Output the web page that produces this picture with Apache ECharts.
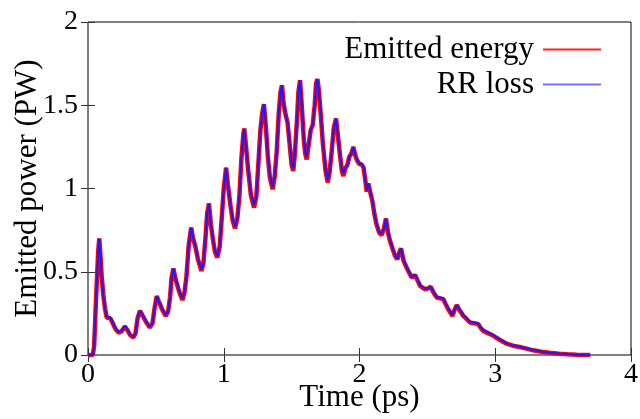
<!DOCTYPE html>
<html>
<head>
<meta charset="utf-8">
<script src="https://cdn.jsdelivr.net/npm/echarts@6/dist/echarts.min.js"></script>
<style>html,body{margin:0;padding:0;background:#fff}#c{width:640px;height:419px}</style>
</head>
<body>
<div id="c"></div>
<script>
const times = [0.00,0.035,0.045,0.06,0.075,0.083,0.09,0.10,0.113,0.125,0.138,0.15,0.165,0.18,0.20,0.223,0.245,0.272,0.29,0.31,0.334,0.35,0.365,0.383,0.40,0.43,0.455,0.475,0.49,0.506,0.52,0.545,0.572,0.59,0.605,0.615,0.629,0.645,0.67,0.695,0.71,0.725,0.742,0.76,0.775,0.79,0.81,0.835,0.85,0.865,0.878,0.891,0.905,0.92,0.935,0.953,0.97,0.985,1.00,1.017,1.03,1.05,1.065,1.083,1.10,1.115,1.13,1.145,1.151,1.165,1.18,1.20,1.223,1.24,1.255,1.27,1.283,1.296,1.31,1.325,1.34,1.36,1.375,1.39,1.405,1.418,1.429,1.44,1.455,1.47,1.485,1.50,1.512,1.525,1.54,1.55,1.562,1.575,1.59,1.60,1.611,1.625,1.64,1.655,1.67,1.68,1.69,1.70,1.715,1.73,1.75,1.766,1.78,1.795,1.81,1.827,1.84,1.855,1.87,1.881,1.895,1.91,1.925,1.94,1.955,1.97,1.985,2.00,2.015,2.03,2.045,2.053,2.065,2.08,2.095,2.11,2.125,2.145,2.163,2.18,2.195,2.21,2.225,2.245,2.262,2.279,2.295,2.306,2.325,2.347,2.365,2.384,2.409,2.43,2.446,2.465,2.483,2.505,2.524,2.545,2.569,2.595,2.618,2.635,2.654,2.684,2.70,2.716,2.74,2.765,2.79,2.814,2.85,2.875,2.895,2.912,2.95,2.986,3.035,3.084,3.13,3.18,3.23,3.28,3.34,3.40,3.47,3.53,3.60,3.65,3.70];
const rrLoss = [0,0,0.05,0.35,0.62,0.70,0.62,0.48,0.36,0.28,0.23,0.225,0.225,0.20,0.165,0.14,0.145,0.175,0.155,0.125,0.11,0.13,0.22,0.266,0.245,0.20,0.17,0.19,0.28,0.354,0.33,0.28,0.242,0.26,0.35,0.46,0.52,0.46,0.39,0.34,0.37,0.47,0.66,0.765,0.70,0.66,0.58,0.515,0.55,0.70,0.85,0.91,0.79,0.70,0.63,0.595,0.65,0.82,1.00,1.125,1.03,0.90,0.82,0.77,0.82,0.95,1.18,1.33,1.36,1.25,1.12,0.97,0.90,0.95,1.15,1.35,1.45,1.507,1.38,1.20,1.08,1.01,1.07,1.22,1.45,1.58,1.62,1.52,1.45,1.40,1.28,1.15,1.12,1.22,1.42,1.58,1.65,1.50,1.30,1.22,1.19,1.26,1.35,1.38,1.50,1.63,1.657,1.60,1.45,1.28,1.12,1.05,1.10,1.22,1.36,1.42,1.33,1.22,1.12,1.09,1.12,1.14,1.19,1.21,1.25,1.20,1.17,1.15,1.15,1.13,1.04,0.99,1.03,0.98,0.93,0.85,0.79,0.74,0.73,0.76,0.82,0.74,0.69,0.64,0.60,0.58,0.62,0.64,0.57,0.53,0.50,0.47,0.48,0.45,0.42,0.41,0.40,0.40,0.41,0.38,0.35,0.345,0.34,0.31,0.28,0.24,0.27,0.30,0.27,0.24,0.22,0.20,0.195,0.19,0.165,0.15,0.135,0.12,0.094,0.07,0.058,0.05,0.04,0.03,0.021,0.014,0.009,0.006,0.002,0,0];
const emittedEnergy = [0,0,0.05,0.35,0.62,0.70,0.62,0.48,0.36,0.28,0.225,0.22,0.22,0.195,0.16,0.135,0.14,0.17,0.15,0.12,0.105,0.13,0.22,0.266,0.24,0.195,0.165,0.19,0.28,0.354,0.325,0.275,0.235,0.26,0.35,0.46,0.52,0.455,0.385,0.33,0.37,0.47,0.66,0.765,0.695,0.655,0.575,0.505,0.55,0.70,0.85,0.91,0.785,0.695,0.62,0.585,0.65,0.82,1.00,1.125,1.025,0.895,0.81,0.76,0.82,0.95,1.18,1.33,1.36,1.245,1.11,0.96,0.885,0.95,1.15,1.35,1.45,1.507,1.375,1.19,1.065,0.995,1.07,1.22,1.45,1.58,1.62,1.515,1.445,1.395,1.27,1.14,1.105,1.22,1.42,1.58,1.65,1.495,1.29,1.21,1.175,1.26,1.35,1.38,1.50,1.63,1.657,1.595,1.44,1.27,1.105,1.035,1.10,1.22,1.36,1.42,1.325,1.21,1.105,1.075,1.12,1.14,1.19,1.21,1.25,1.195,1.165,1.145,1.145,1.125,1.035,0.98,1.03,0.975,0.925,0.845,0.785,0.735,0.72,0.76,0.82,0.735,0.685,0.635,0.595,0.575,0.62,0.64,0.565,0.525,0.495,0.465,0.48,0.445,0.415,0.405,0.395,0.40,0.41,0.375,0.345,0.34,0.335,0.305,0.275,0.235,0.27,0.30,0.265,0.235,0.215,0.195,0.19,0.185,0.16,0.145,0.13,0.115,0.09,0.068,0.056,0.048,0.038,0.028,0.02,0.013,0.008,0.005,0.002,0,0];
const xTicks = [0,1,2,3,4];
const yTicks = [0,0.5,1,1.5,2];
const seriesNames = ['Emitted energy','RR loss'];

const FONT = 'Liberation Serif';
const chart = echarts.init(document.getElementById('c'), null, {renderer:'canvas'});
const pairs = arr => times.map((t,i)=>[t, arr[i]]);
const tickStyle = {show:true, inside:true, length:7, lineStyle:{color:'#333', width:1}};
chart.setOption({
  animation:false,
  backgroundColor:'#fff',
  grid:{left:88, right:9, top:22, bottom:64, containLabel:false, outerBoundsMode:'none',
        show:true, borderColor:'#000', borderWidth:1, backgroundColor:'transparent'},
  legend:{
    orient:'vertical', right:34, top:29, align:'right', itemGap:4,
    itemWidth:58, itemHeight:2, icon:'rect',
    textStyle:{fontFamily:FONT, fontSize:31, color:'#000', padding:[0,4,0,0]},
    data:[
      {name:seriesNames[0], itemStyle:{color:'#ff2020'}},
      {name:seriesNames[1], itemStyle:{color:'#7070ff'}}
    ]
  },
  xAxis:[
    {type:'value', min:xTicks[0], max:xTicks[xTicks.length-1], interval:1, position:'bottom',
     name:'Time (ps)', nameLocation:'middle', nameGap:27, nameMoveOverlap:false,
     nameTextStyle:{fontFamily:FONT, fontSize:31, color:'#000'},
     axisLine:{show:false}, axisTick:tickStyle, splitLine:{show:false},
     axisLabel:{fontFamily:FONT, fontSize:28, color:'#000', margin:6}},
    {type:'value', min:xTicks[0], max:xTicks[xTicks.length-1], interval:1, position:'top',
     axisLine:{show:false}, axisTick:tickStyle, splitLine:{show:false}, axisLabel:{show:false}}
  ],
  yAxis:[
    {type:'value', min:yTicks[0], max:yTicks[yTicks.length-1], interval:0.5, position:'left',
     name:'Emitted power (PW)', nameLocation:'middle', nameGap:45, nameMoveOverlap:false,
     nameTextStyle:{fontFamily:FONT, fontSize:31, color:'#000'},
     axisLine:{show:false}, axisTick:tickStyle, splitLine:{show:false},
     axisLabel:{fontFamily:FONT, fontSize:28, color:'#000', margin:10}},
    {type:'value', min:yTicks[0], max:yTicks[yTicks.length-1], interval:0.5, position:'right',
     axisLine:{show:false}, axisTick:tickStyle, splitLine:{show:false}, axisLabel:{show:false}}
  ],
  series:[
    {name:seriesNames[0], type:'line', data:pairs(emittedEnergy), showSymbol:false, symbol:'none',
     lineStyle:{color:'#ff0000', width:4.5}, itemStyle:{color:'#ff2020'}, z:2},
    {name:seriesNames[1], type:'line', data:pairs(rrLoss), showSymbol:false, symbol:'none',
     lineStyle:{color:'#1a1aff', width:2}, itemStyle:{color:'#7070ff'}, z:3}
  ]
});
</script>
</body>
</html>
